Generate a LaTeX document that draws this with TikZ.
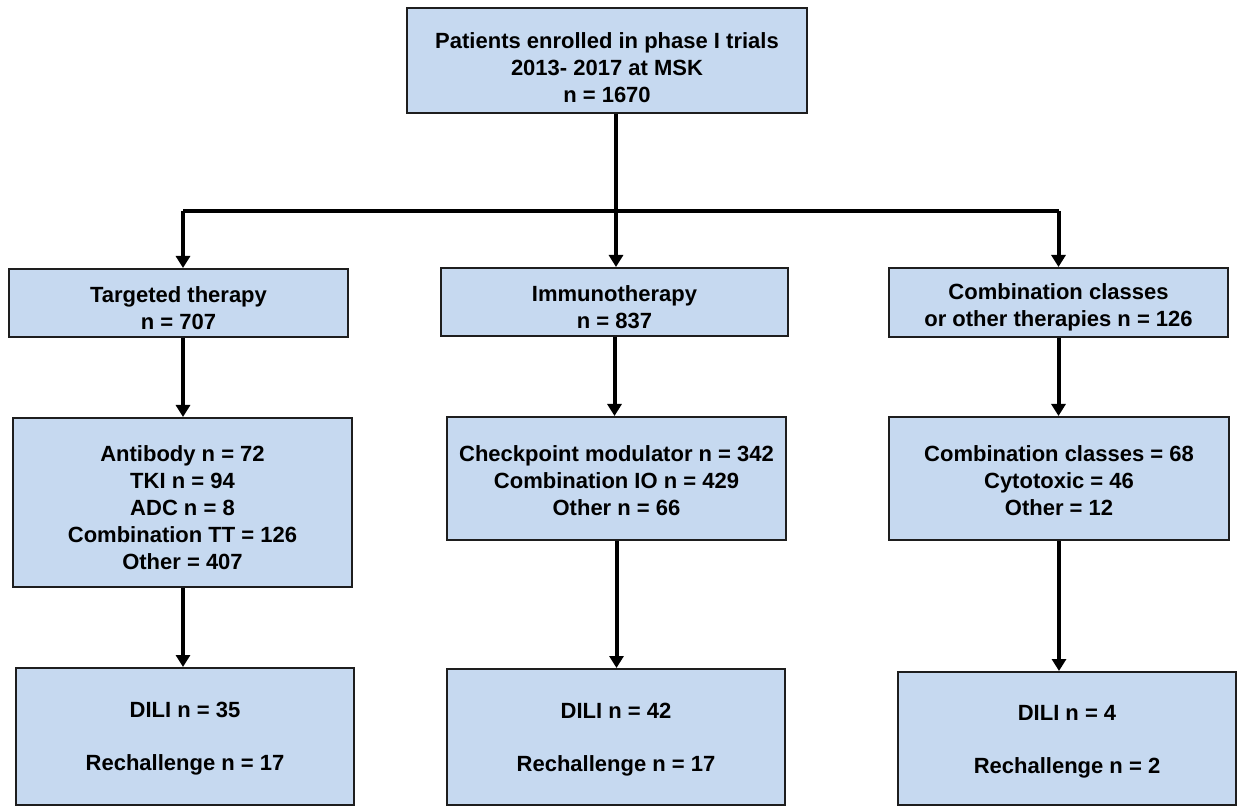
\documentclass[tikz,border=0pt]{standalone}
\usepackage{fontspec}
\setmainfont{Liberation Sans}
\usetikzlibrary{arrows.meta}
\definecolor{boxblue}{RGB}{198,217,240}
\definecolor{boxline}{RGB}{30,30,30}
\newcommand{\textdrop}[1]{\rule{0pt}{#1}} % taller first line pushes text down

\begin{document}
\begin{tikzpicture}[
            x = 0.5pt, y = -0.5pt, % one unit per pixel
            > = {Triangle[width=7pt,length=6pt]}, % arrow head style
            line width = 2pt,
            font = \fontsize{11}{13.5}\selectfont\bfseries
        ]

        \tikzstyle{box}=[
            draw = boxline,
            line width = 1pt,
            fill = boxblue,
            rectangle,
            align = center,
            inner sep = 0pt
        ]

        \useasboundingbox (0,0) rectangle (1240,806);

        % top
        \node[box, minimum width=200pt, minimum height=52.5pt] (enrolled) at (607,60.5)
            {\textdrop{15pt}Patients enrolled in phase I trials\\2013- 2017 at MSK\\n = 1670};

        % therapy classes
        \node[box, minimum width=169.5pt, minimum height=34pt] (targeted) at (178.5,303)
            {\textdrop{13pt}Targeted therapy\\n = 707};
        \node[box, minimum width=173.5pt, minimum height=34pt] (immuno) at (614.5,302)
            {\textdrop{13pt}Immunotherapy\\n = 837};
        \node[box, minimum width=169.5pt, minimum height=34.5pt] (combo) at (1058.5,302.5)
            {\textdrop{13pt}Combination classes\\or other therapies n = 126};

        % subgroups
        \node[box, minimum width=169.5pt, minimum height=84.5pt] (targetedsub) at (182.5,502.5)
            {\textdrop{13pt}Antibody n = 72\\TKI n = 94\\ADC n = 8\\Combination TT = 126\\Other = 407};
        \node[box, minimum width=169.5pt, minimum height=61.5pt] (immunosub) at (616.5,478.5)
            {\textdrop{10pt}Checkpoint modulator n = 342\\Combination IO n = 429\\Other n = 66};
        \node[box, minimum width=170pt, minimum height=61.5pt] (combosub) at (1059,478.5)
            {\textdrop{10pt}Combination classes = 68\\Cytotoxic = 46\\Other = 12};

        % DILI
        \node[box, minimum width=169pt, minimum height=68.5pt] (targeteddili) at (185,736.5)
            {\textdrop{10pt}DILI n = 35\\[13pt]Rechallenge n = 17};
        \node[box, minimum width=169pt, minimum height=68pt] (immunodili) at (616,737)
            {\textdrop{10pt}DILI n = 42\\[13pt]Rechallenge n = 17};
        \node[box, minimum width=169pt, minimum height=66.5pt] (combodili) at (1067,738.5)
            {\textdrop{11pt}DILI n = 4\\[13pt]Rechallenge n = 2};

        \coordinate (bus) at (616,211);
        \coordinate (leftdrop) at (183,211);

        \draw (enrolled.south -| bus) -- (bus);
        \draw (leftdrop) -- (combo.north |- bus);
        \draw[->] (leftdrop) -- (leftdrop |- targeted.north);
        \draw[->] (bus) -- (bus |- immuno.north);
        \draw[->] (combo.north |- bus) -- (combo.north);

        \draw[->] (leftdrop |- targeted.south) -- (leftdrop |- targetedsub.north);
        \draw[->] (immuno.south) -- (immuno.south |- immunosub.north);
        \draw[->] (combo.south) -- (combo.south |- combosub.north);

        \draw[->] (leftdrop |- targetedsub.south) -- (leftdrop |- targeteddili.north);
        \draw[->] (immunosub.south) -- (immunosub.south |- immunodili.north);
        \draw[->] (combosub.south) -- (combosub.south |- combodili.north);
    \end{tikzpicture}
\end{document}
